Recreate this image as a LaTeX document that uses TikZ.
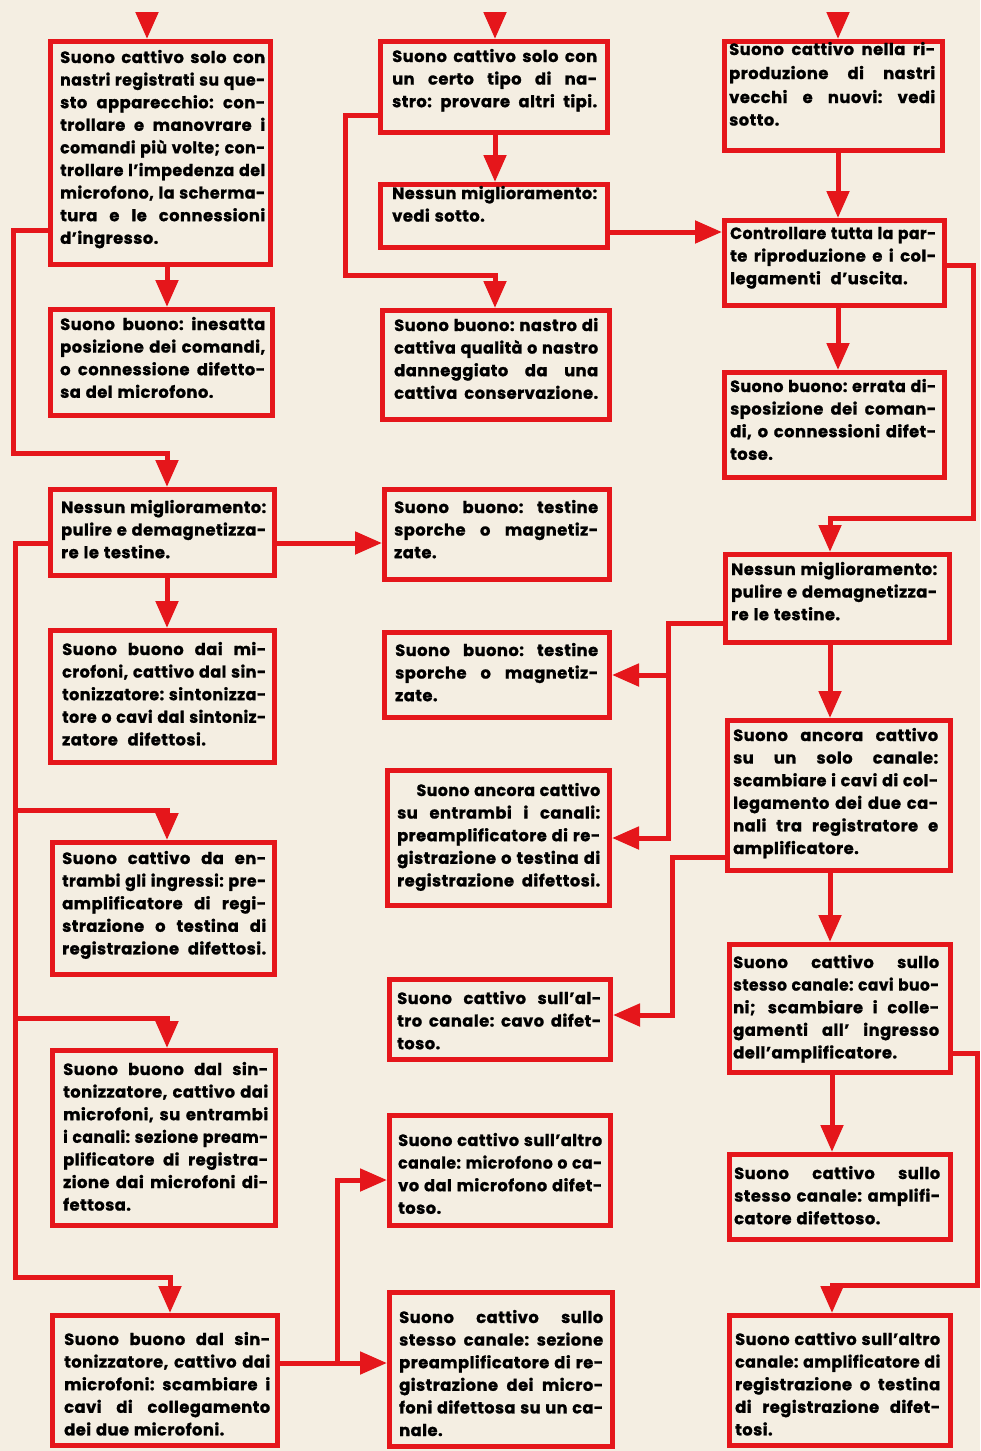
\documentclass[tikz,border=0pt]{standalone}
\usepackage{fontspec}
\setmainfont{Poppins}[BoldFeatures={FakeBold=1.2}, LetterSpace=3]
\usepackage{graphicx}
\usetikzlibrary{arrows.meta}
\definecolor{rd}{HTML}{E5161B}
\definecolor{bg}{HTML}{F4EEE2}
\newlength\lw
\newsavebox\lnbox
\newcommand\jline[1]{{\spaceskip=.3em plus 20em\xspaceskip=.3em plus 20em\sbox\lnbox{#1}\ifdim\wd\lnbox>\lw\resizebox{\lw}{\height}{\usebox\lnbox}\else\makebox[\lw][s]{#1}\fi}}
\newcommand\lline[1]{{\spaceskip=.3em\xspaceskip=.3em\sbox\lnbox{#1}\ifdim\wd\lnbox>\lw\resizebox{\lw}{\height}{\usebox\lnbox}\else\makebox[\lw][l]{#1}\fi}}
\tikzset{
  box/.style={draw=rd, line width=5pt, fill=bg, inner sep=0pt},
  txt/.style={inner sep=0pt, align=left, text=black, font=\fontsize{16.3}{22.6}\selectfont\bfseries},
  ln/.style={draw=rd, line width=5pt, line join=miter},
  arr/.style={-{Triangle[length=27pt,width=22pt]}, rd}
}
\newcommand\bx[9]{%
 \node[box,anchor=north west,minimum width={#4pt-#2pt-5pt},minimum height={#5pt-#3pt-5pt}] (#1) at (#2,#3) {};
 \pgfmathsetlength{\lw}{#7-#6}%
 \node[txt,text width=\lw,anchor=base west] (#1t) at (#6,#8) {#9};}
\begin{document}
\begin{tikzpicture}[x=1pt,y=-1pt]
\useasboundingbox (0,0) rectangle (980,1451);
\fill[bg] (0,0) rectangle (980,1451);

% left column
\bx{A1}{48}{39}{273}{267}{60}{265}{63}{\jline{Suono cattivo solo con}\\\jline{nastri registrati su que-}\\\jline{sto apparecchio: con-}\\\jline{trollare e manovrare i}\\\jline{comandi più volte; con-}\\\jline{trollare l’impedenza del}\\\jline{microfono, la scherma-}\\\jline{tura e le connessioni}\\\lline{d’ingresso.}}
\bx{A2}{48}{307}{275}{418}{60}{265}{330}{\jline{Suono buono: inesatta}\\\jline{posizione dei comandi,}\\\jline{o connessione difetto-}\\\lline{sa del microfono.}}
\bx{A3}{48}{487}{277}{578}{61}{266}{513}{\jline{Nessun miglioramento:}\\\jline{pulire e demagnetizza-}\\\lline{re le testine.}}
\bx{A4}{48}{628}{277}{765}{62}{266}{655}{\jline{Suono buono dai mi-}\\\jline{crofoni, cattivo dal sin-}\\\jline{tonizzatore: sintonizza-}\\\jline{tore o cavi dal sintoniz-}\\\lline{zatore\ \ difettosi.}}
\bx{A5}{50}{840}{277}{977}{62}{266}{864}{\jline{Suono cattivo da en-}\\\jline{trambi gli ingressi: pre-}\\\jline{amplificatore di regi-}\\\jline{strazione o testina di}\\\jline{registrazione difettosi.}}
\bx{A6}{50}{1048}{278}{1228}{63}{268}{1075}{\jline{Suono buono dal sin-}\\\jline{tonizzatore, cattivo dai}\\\jline{microfoni, su entrambi}\\\jline{i canali: sezione pream-}\\\jline{plificatore di registra-}\\\jline{zione dai microfoni di-}\\\lline{fettosa.}}
\bx{A7}{50}{1313}{280}{1448}{64}{270}{1345}{\jline{Suono buono dal sin-}\\\jline{tonizzatore, cattivo dai}\\\jline{microfoni: scambiare i}\\\jline{cavi di collegamento}\\\lline{dei due microfoni.}}

% middle column
\bx{B1}{378}{39}{610}{135}{392}{597}{62}{\jline{Suono cattivo solo con}\\\jline{un certo tipo di na-}\\\jline{stro: provare altri tipi.}}
\bx{B2}{378}{182}{610}{250}{392}{597}{199}{\jline{Nessun miglioramento:}\\\lline{vedi sotto.}}
\bx{B3}{380}{308}{612}{422}{394}{598}{331}{\jline{Suono buono: nastro di}\\\jline{cattiva qualità o nastro}\\\jline{danneggiato da una}\\\jline{cattiva conservazione.}}
\bx{B4}{382}{487}{612}{582}{394}{598}{513}{\jline{Suono buono: testine}\\\jline{sporche o magnetiz-}\\\lline{zate.}}
\bx{B5}{382}{630}{612}{720}{395}{598}{656}{\jline{Suono buono: testine}\\\jline{sporche o magnetiz-}\\\lline{zate.}}
\bx{B6}{385}{768}{612}{908}{397}{600}{796}{\jline{\hspace*{20pt}Suono ancora cattivo}\\\jline{su entrambi i canali:}\\\jline{preamplificatore di re-}\\\jline{gistrazione o testina di}\\\jline{registrazione difettosi.}}
\bx{B7}{387}{977}{613}{1062}{397}{601}{1004}{\jline{Suono cattivo sull’al-}\\\jline{tro canale: cavo difet-}\\\lline{toso.}}
\bx{B8}{387}{1113}{613}{1228}{398}{602}{1146}{\jline{Suono cattivo sull’altro}\\\jline{canale: microfono o ca-}\\\jline{vo dal microfono difet-}\\\lline{toso.}}
\bx{B9}{387}{1290}{615}{1449}{399}{603}{1323}{\jline{Suono cattivo sullo}\\\jline{stesso canale: sezione}\\\jline{preamplificatore di re-}\\\jline{gistrazione dei micro-}\\\jline{foni difettosa su un ca-}\\\lline{nale.}}

% right column
\bx{C1}{722}{39}{945}{153}{729}{935}{55}{\setlength\baselineskip{24pt}\jline{Suono cattivo nella ri-}\\\jline{produzione di nastri}\\\jline{vecchi e nuovi: vedi}\\\lline{sotto.}}
\bx{C2}{722}{218}{947}{308}{730}{936}{239}{\jline{Controllare tutta la par-}\\\jline{te riproduzione e i col-}\\\lline{legamenti\ \ d’uscita.}}
\bx{C3}{722}{370}{947}{480}{730}{936}{392}{\jline{Suono buono: errata di-}\\\jline{sposizione dei coman-}\\\jline{di, o connessioni difet-}\\\lline{tose.}}
\bx{C4}{723}{552}{952}{645}{731}{937}{575}{\jline{Nessun miglioramento:}\\\jline{pulire e demagnetizza-}\\\lline{re le testine.}}
\bx{C5}{725}{718}{953}{873}{733}{938}{741}{\jline{Suono ancora cattivo}\\\jline{su un solo canale:}\\\jline{scambiare i cavi di col-}\\\jline{legamento dei due ca-}\\\jline{nali tra registratore e}\\\lline{amplificatore.}}
\bx{C6}{727}{942}{953}{1075}{733}{939}{968}{\jline{Suono cattivo sullo}\\\jline{stesso canale: cavi buo-}\\\jline{ni; scambiare i colle-}\\\jline{gamenti all’ ingresso}\\\lline{dell’amplificatore.}}
\bx{C7}{727}{1152}{953}{1242}{734}{940}{1179}{\jline{Suono cattivo sullo}\\\jline{stesso canale: amplifi-}\\\lline{catore difettoso.}}
\bx{C8}{727}{1313}{953}{1448}{735}{940}{1345}{\jline{Suono cattivo sull’altro}\\\jline{canale: amplificatore di}\\\jline{registrazione o testina}\\\jline{di registrazione difet-}\\\lline{tosi.}}

% helper coordinates
\coordinate (t1) at (147,12);
\coordinate (t2) at (495,12);
\coordinate (t3) at (838,12);
\coordinate (xa) at (167,0);
\coordinate (xb) at (495,0);
\coordinate (xc) at (838,0);
\coordinate (xc2) at (830,0);
\coordinate (xc3) at (832,0);

% left column connectors
\draw[ln,arr] (t1) -- (t1 |- A1.north);
\draw[ln,arr] (A1.south -| xa) -- (A2.north -| xa);
\coordinate (p1) at (13,230);
\coordinate (p2) at (167,453);
\draw[ln,arr] (A1.west |- p1) -- (p1) |- (p2) -- (p2 |- A3.north);
\draw[ln,arr] (A3.south -| xa) -- (A4.north -| xa);
\coordinate (p3) at (0,543);
\draw[ln,arr] (A3.east |- p3) -- (B4.west |- p3);
\coordinate (q1) at (15,543);
\coordinate (q2) at (15,1277);
\coordinate (q3) at (170,1277);
\draw[ln,arr] (A3.west |- q1) -- (q1) -- (q2) -- (q3) -- (q3 |- A7.north);
\coordinate (q4) at (15,810);
\coordinate (q5) at (167,810);
\draw[ln,arr] (q4) -- (q5) -- (q5 |- A5.north);
\coordinate (q6) at (15,1018);
\coordinate (q7) at (167,1018);
\draw[ln,arr] (q6) -- (q7) -- (q7 |- A6.north);

% middle column connectors
\draw[ln,arr] (t2) -- (t2 |- B1.north);
\draw[ln,arr] (B1.south -| xb) -- (B2.north -| xb);
\coordinate (r1) at (345,115);
\coordinate (r2) at (495,275);
\draw[ln,arr] (B1.west |- r1) -- (r1) |- (r2) -- (r2 |- B3.north);
\coordinate (r3) at (0,232);
\draw[ln,arr] (B2.east |- r3) -- (C2.west |- r3);

% right column connectors
\draw[ln,arr] (t3) -- (t3 |- C1.north);
\draw[ln,arr] (C1.south -| xc) -- (C2.north -| xc);
\draw[ln,arr] (C2.south -| xc) -- (C3.north -| xc);
\coordinate (s1) at (973,265);
\coordinate (s2) at (830,518);
\draw[ln,arr] (C2.east |- s1) -- (s1) |- (s2) -- (s2 |- C4.north);
\draw[ln,arr] (C4.south -| xc2) -- (C5.north -| xc2);
\coordinate (s3) at (668,623);
\coordinate (s4) at (668,838);
\coordinate (s5) at (668,675);
\draw[ln,arr] (C4.west |- s3) -- (s3) -- (s4) -- (B6.east |- s4);
\draw[ln,arr] (s5) -- (B5.east |- s5);
\draw[ln,arr] (C5.south -| xc2) -- (C6.north -| xc2);
\coordinate (s6) at (672,857);
\coordinate (s7) at (672,1015);
\draw[ln,arr] (C5.west |- s6) -- (s6) -- (s7) -- (B7.east |- s7);
\draw[ln,arr] (C6.south -| xc3) -- (C7.north -| xc3);
\coordinate (s8) at (977,1053);
\coordinate (s9) at (832,1285);
\draw[ln,arr] (C6.east |- s8) -- (s8) |- (s9) -- (s9 |- C8.north);

% bottom connectors
\coordinate (u1) at (337,1363);
\coordinate (u2) at (337,1180);
\draw[ln,arr] (A7.east |- u1) -- (B9.west |- u1);
\draw[ln,arr] (u1) -- (u2) -- (B8.west |- u2);
\end{tikzpicture}
\end{document}
